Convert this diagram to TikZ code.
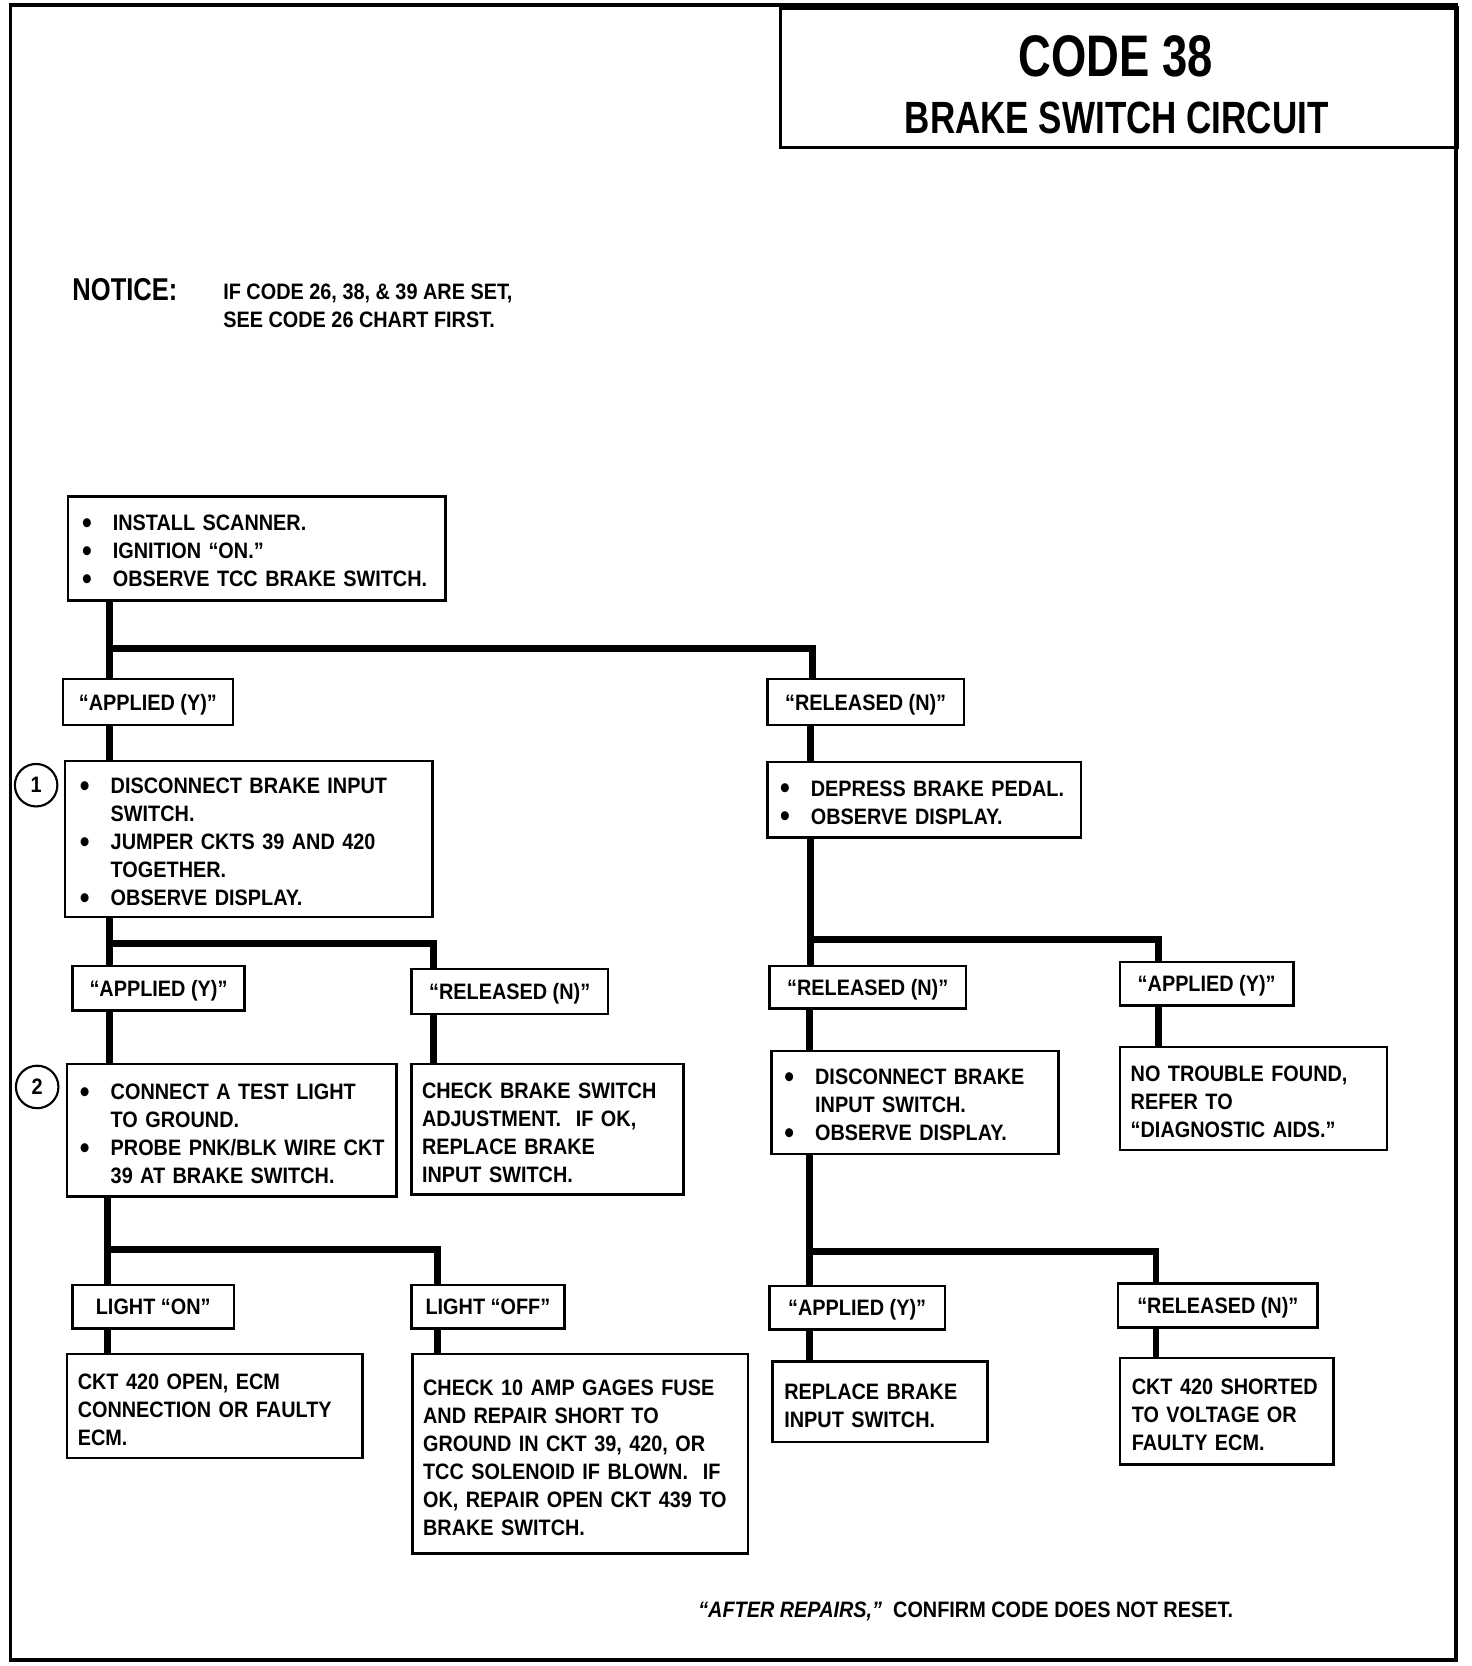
\documentclass[tikz,border=0pt]{standalone}
\usepackage{fontspec}
\setmainfont{Liberation Sans}[FakeStretch=0.89]
\usetikzlibrary{calc}
\newcommand\bodyfont{\fontsize{21}{26.3}\selectfont\bfseries}
\tikzset{
 conn/.style={line width=6.5pt, line join=miter},
 box/.style={draw, line width=2.4pt, anchor=north west, inner sep=0pt, align=left, font=\bodyfont},
 lbl/.style={draw, line width=2.4pt, anchor=north west, inner sep=0pt, align=center, font=\bodyfont, text depth=0pt},
 num/.style={draw, circle, line width=2pt, minimum size=40pt, inner sep=0pt, font=\bodyfont},
 txt/.style={inner sep=0pt, font=\bodyfont, align=left},
}
\newcommand\bx[7]{\pgfmathsetmacro\bw{#4-#2}\pgfmathsetmacro\bh{#5-#3}\pgfmathsetmacro\tw{#4-#2-2*#6}%
 \node[box,minimum width=\bw pt,minimum height=\bh pt,text width=\tw pt] (#1) at (#2,#3) {\rule{0pt}{22pt}#7};}
\newcommand\lb[6]{\pgfmathsetmacro\bw{#4-#2}\pgfmathsetmacro\bh{#5-#3}%
 \node[lbl,minimum width=\bw pt,minimum height=\bh pt] (#1) at (#2,#3) {#6};}
\newcommand\bul{\raisebox{-2.6pt}{\scalebox{1.4}{\textbullet}}}
\newcommand\bl[1]{\mbox{\makebox[29pt][l]{\bul}#1}}
\newcommand\ct[1]{\mbox{\hspace*{29pt}#1}}
\newcommand\pl[1]{\mbox{#1}}
\begin{document}
\begin{tikzpicture}[x=1pt,y=-1pt]
\useasboundingbox (0,0) rectangle (1385,1568);
% frame
\draw[line width=3.5pt] (10,5) rectangle (1370,1562);
\node[draw, line width=3pt, anchor=north west, minimum width=637pt, minimum height=131pt, inner sep=0pt] (title) at (733,6) {};
\node[txt] (t1) at (1050,53) {\scalebox{1}[1.15]{\fontsize{48}{50}\selectfont\bfseries CODE 38}};
\node[txt] (t2) at (1051,111) {\scalebox{1}[1.15]{\fontsize{37}{40}\selectfont\bfseries BRAKE SWITCH CIRCUIT}};
% notice
\node[txt, anchor=base west] (notice) at (68,283) {\scalebox{1}[1.1]{\fontsize{27}{30}\selectfont\bfseries NOTICE:}};
\node[txt, anchor=base west] (n1) at (210,282) {IF CODE 26, 38, \& 39 ARE SET,};
\node[txt, anchor=base west] (n2) at (210,308) {SEE CODE 26 CHART FIRST.};
% boxes
\bx{b1}{63}{466}{418}{564}{13}{\bl{INSTALL SCANNER.}\\\bl{IGNITION “ON.”}\\\bl{OBSERVE TCC BRAKE SWITCH.}}
\lb{ap1}{58}{638}{218}{681}{“APPLIED (Y)”}
\lb{rel1}{721}{638}{906}{681}{“RELEASED (N)”}
\bx{b2}{60}{715}{406}{862}{14}{\bl{DISCONNECT BRAKE INPUT}\\\ct{SWITCH.}\\\bl{JUMPER CKTS 39 AND 420}\\\ct{TOGETHER.}\\\bl{OBSERVE DISPLAY.}}
\node[num] (c1) at (34,739) {1};
\bx{dep}{721}{716}{1016}{787}{12}{\bl{DEPRESS BRAKE PEDAL.}\\\bl{OBSERVE DISPLAY.}}
\lb{ap2}{67}{908}{229}{950}{“APPLIED (Y)”}
\lb{rel2}{386}{911}{571}{953}{“RELEASED (N)”}
\bx{b3}{62}{1000}{372}{1125}{12}{\bl{CONNECT A TEST LIGHT}\\\ct{TO GROUND.}\\\bl{PROBE PNK/BLK WIRE CKT}\\\ct{39 AT BRAKE SWITCH.}}
\node[num] (c2) at (35,1023) {2};
\bx{chk}{386}{1000}{642}{1123}{10}{\pl{CHECK BRAKE SWITCH}\\\pl{ADJUSTMENT.\ \ IF OK,}\\\pl{REPLACE BRAKE}\\\pl{INPUT SWITCH.}}
\lb{lon}{67}{1208}{219}{1249}{LIGHT “ON”}
\lb{loff}{386}{1208}{530}{1249}{LIGHT “OFF”}
\bx{open}{62}{1273}{340}{1371}{10}{\pl{CKT 420 OPEN, ECM}\\\pl{CONNECTION OR FAULTY}\\\pl{ECM.}}
\bx{fuse}{387}{1273}{703}{1461}{10}{\pl{CHECK 10 AMP GAGES FUSE}\\\pl{AND REPAIR SHORT TO}\\\pl{GROUND IN CKT 39, 420, OR}\\\pl{TCC SOLENOID IF BLOWN.\ \ IF}\\\pl{OK, REPAIR OPEN CKT 439 TO}\\\pl{BRAKE SWITCH.}}
\lb{rel3}{723}{908}{908}{948}{“RELEASED (N)”}
\lb{ap3}{1053}{904}{1216}{945}{“APPLIED (Y)”}
\bx{discr}{725}{988}{995}{1085}{12}{\bl{DISCONNECT BRAKE}\\\ct{INPUT SWITCH.}\\\bl{OBSERVE DISPLAY.}}
\bx{ntf}{1053}{984}{1304}{1081}{10}{\pl{NO TROUBLE FOUND,}\\\pl{REFER TO}\\\pl{“DIAGNOSTIC AIDS.”}}
\lb{ap4}{723}{1209}{888}{1250}{“APPLIED (Y)”}
\lb{rel4}{1051}{1207}{1239}{1248}{“RELEASED (N)”}
\bx{repl}{726}{1280}{928}{1356}{11}{\pl{REPLACE BRAKE}\\\pl{INPUT SWITCH.}}
\bx{short}{1053}{1277}{1254}{1377}{11}{\pl{CKT 420 SHORTED}\\\pl{TO VOLTAGE OR}\\\pl{FAULTY ECM.}}
% footer
\node[txt, anchor=base west] (foot) at (657,1522) {{\itshape “AFTER REPAIRS,”}\ \ CONFIRM CODE DOES NOT RESET.};
% junctions / columns
\coordinate (j1) at (103,610);
\coordinate (x1) at (765,0);
\coordinate (j2) at (103,888);
\coordinate (x2) at (408,0);
\coordinate (j3) at (101,1176);
\coordinate (x3) at (412,0);
\coordinate (j4) at (763,884);
\coordinate (x4) at (1090,0);
\coordinate (j5) at (762,1178);
\coordinate (x5) at (1088,0);
% connectors
\draw[conn] (b1.south -| j1) -- (ap1.north -| j1);
\draw[conn] (j1) -| (rel1.north -| x1);
\draw[conn] (ap1.south -| j1) -- (b2.north -| j1);
\draw[conn] (rel1.south -| j4) -- (dep.north -| j4);
\draw[conn] (b2.south -| j2) -- (ap2.north -| j2);
\draw[conn] (j2) -| (rel2.north -| x2);
\draw[conn] (ap2.south -| j2) -- (b3.north -| j2);
\draw[conn] (rel2.south -| x2) -- (chk.north -| x2);
\draw[conn] (b3.south -| j3) -- (lon.north -| j3);
\draw[conn] (j3) -| (loff.north -| x3);
\draw[conn] (lon.south -| j3) -- (open.north -| j3);
\draw[conn] (loff.south -| x3) -- (fuse.north -| x3);
\draw[conn] (dep.south -| j4) -- (rel3.north -| j4);
\draw[conn] (j4) -| (ap3.north -| x4);
\draw[conn] (rel3.south -| j5) -- (discr.north -| j5);
\draw[conn] (ap3.south -| x4) -- (ntf.north -| x4);
\draw[conn] (discr.south -| j5) -- (ap4.north -| j5);
\draw[conn] (j5) -| (rel4.north -| x5);
\draw[conn] (ap4.south -| j5) -- (repl.north -| j5);
\draw[conn] (rel4.south -| x5) -- (short.north -| x5);
\end{tikzpicture}
\end{document}
